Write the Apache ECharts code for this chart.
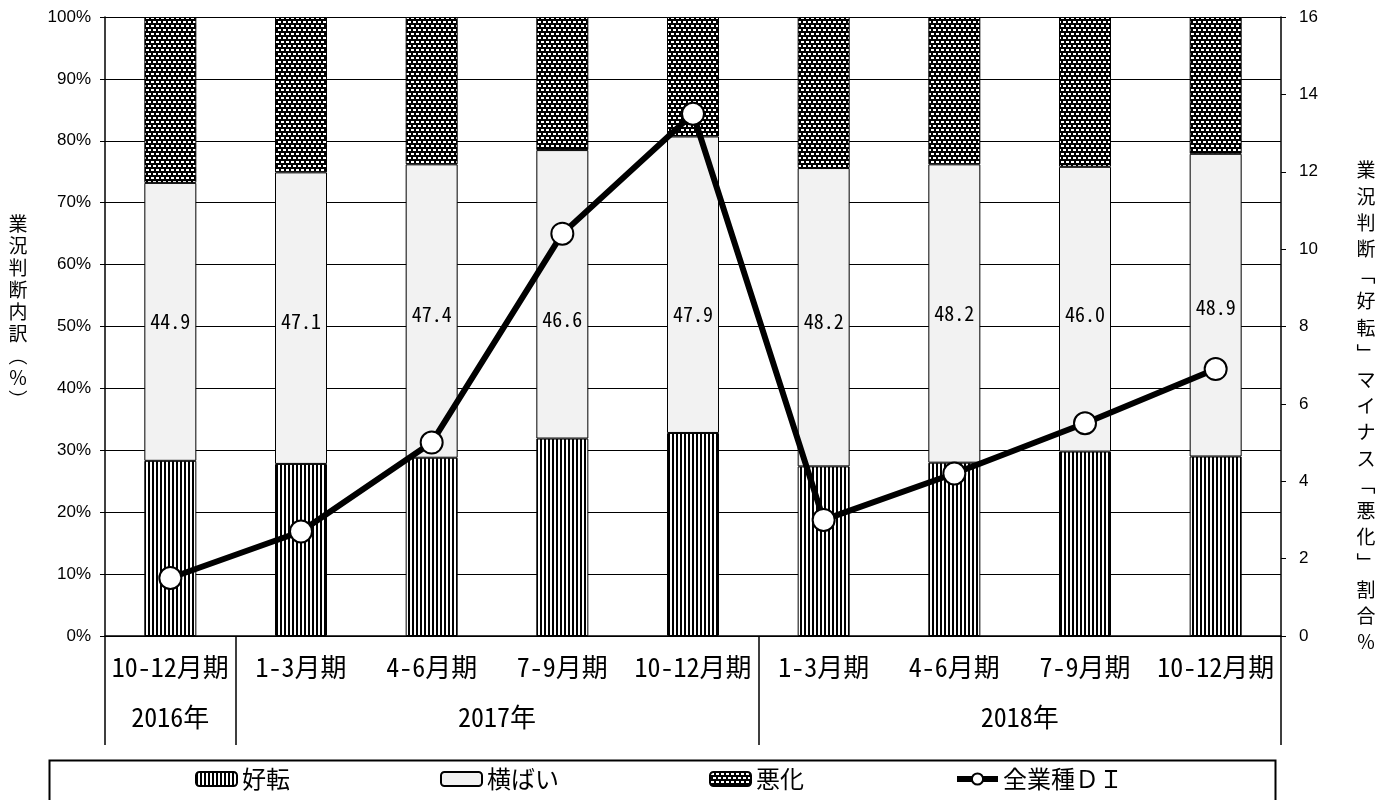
<!DOCTYPE html>
<html><head><meta charset="utf-8">
<script src="https://cdn.jsdelivr.net/npm/echarts@6/dist/echarts.min.js"></script>
<style>html,body{margin:0;padding:0;background:#fff}#c{width:1391px;height:800px}</style>
</head><body><div id="c"></div>
<script>
// ---- data ----
const categories = ['10-12月期','1-3月期','4-6月期','7-9月期','10-12月期','1-3月期','4-6月期','7-9月期','10-12月期'];
const years = ['2016年','2017年','2018年'];
const yearSpans = [1, 4, 4];
const improved = [28.3, 27.8, 28.8, 31.9, 32.8, 27.4, 28.0, 29.8, 29.0];
const flat     = [44.9, 47.1, 47.4, 46.6, 47.9, 48.2, 48.2, 46.0, 48.9];
const worse    = [26.8, 25.1, 23.8, 21.5, 19.3, 24.4, 23.8, 24.2, 22.1];
const di       = [1.5, 2.7, 5.0, 10.4, 13.5, 3.0, 4.2, 5.5, 6.9];
const seriesNames = ['好転', '横ばい', '悪化', '全業種ＤＩ'];
const leftAxisName = '業況判断内訳︵％︶';
const rightAxisName = '業況判断﹁好転﹂マイナス﹁悪化﹂割合％';

// label nudges (px, downward) as in the reference
const labelNudge = [0, 3, 3, 25, 30, 4, 0, 5, 2];

// year axis boundaries and centres from spans
const yearBounds = [0];
const yearCenters = [];
yearSpans.forEach(s => { const a = yearBounds[yearBounds.length-1]; yearCenters.push(a + s/2); yearBounds.push(a + s); });

// ---- patterns ----
function stripePattern() {
  const c = document.createElement('canvas'); c.width = 4; c.height = 4;
  const g = c.getContext('2d');
  g.fillStyle = '#fff'; g.fillRect(0,0,4,4);
  g.fillStyle = '#000'; g.fillRect(0,0,2,4);
  return c;
}
function brickPattern() {
  const c = document.createElement('canvas'); c.width = 10; c.height = 8;
  const g = c.getContext('2d');
  g.fillStyle = '#000'; g.fillRect(0,0,10,8);
  g.fillStyle = '#fff';
  g.fillRect(1,1,3,2); g.fillRect(6,1,3,2);
  g.fillRect(3,5,3,2); g.fillRect(8,5,2,2); g.fillRect(0,5,1,2);
  return c;
}
const pStripe = {image: stripePattern(), repeat: 'repeat'};
const pBrick = {image: brickPattern(), repeat: 'repeat'};

const chart = echarts.init(document.getElementById('c'));
const cjk = '"Noto Sans Mono CJK JP", "Noto Sans CJK JP", sans-serif';
const sansF = '"Liberation Sans", Arial, sans-serif';
const vert = s => Array.from(s).join('\n');

chart.setOption({
  animation: false,
  backgroundColor: '#fff',
  grid: {left: 105, right: 110, top: 17, bottom: 164, containLabel: false, outerBoundsMode: 'none'},
  legend: {
    data: [
      {name: seriesNames[0]}, {name: seriesNames[1]}, {name: seriesNames[2]},
      {name: seriesNames[3], lineStyle: {width: 6, color: '#000'}, itemStyle: {color: '#fff', borderColor: '#000', borderWidth: 2}}
    ],
    left: 195, top: 767, padding: 0,
    itemGap: 150, itemWidth: 41, itemHeight: 14,
    textStyle: {fontFamily: cjk, fontSize: 24, color: '#000'}
  },
  graphic: [{
    type: 'rect', left: 47, top: 758, shape: {width: 1226, height: 60},
    style: {fill: 'none', stroke: '#000', lineWidth: 2}, silent: true
  }, {
    type: 'text', x: 18, y: 312, silent: true,
    style: {text: vert(leftAxisName), font: '19px ' + cjk, fill: '#000', align: 'center', verticalAlign: 'middle', lineHeight: 22}
  }, {
    type: 'text', x: 1366, y: 406, silent: true,
    style: {text: vert(rightAxisName), font: '19px ' + cjk, fill: '#000', align: 'center', verticalAlign: 'middle', lineHeight: 26.2}
  }],
  xAxis: [{
    type: 'category', data: categories, gridIndex: 0,
    axisLine: {lineStyle: {color: '#000', width: 1.5}},
    axisTick: {show: false},
    axisLabel: {fontFamily: cjk, fontSize: 26, color: '#000', margin: 18, interval: 0}
  }, {
    type: 'value', gridIndex: 0, position: 'bottom', min: 0, max: categories.length,
    axisLine: {show: false},
    splitLine: {show: false},
    axisTick: {show: true, customValues: yearBounds, length: 109, lineStyle: {color: '#000', width: 1.5}},
    axisLabel: {
      customValues: yearCenters, margin: 68, fontFamily: cjk, fontSize: 26, color: '#000',
      formatter: v => { const i = yearCenters.findIndex(c => Math.abs(c - v) < 1e-6); return i >= 0 ? years[i] : ''; }
    }
  }],
  yAxis: [{
    type: 'value', min: 0, max: 100, interval: 10,
    axisLine: {show: true, lineStyle: {color: '#000', width: 1.5}},
    axisTick: {show: true, length: 5, lineStyle: {color: '#000'}},
    splitLine: {show: true, lineStyle: {color: '#000', width: 1}},
    axisLabel: {formatter: '{value}%', fontFamily: sansF, fontSize: 17, color: '#000', margin: 14}
  }, {
    type: 'value', min: 0, max: 16, interval: 2,
    axisLine: {show: true, lineStyle: {color: '#000', width: 1.5}},
    axisTick: {show: true, length: 5, lineStyle: {color: '#000'}},
    splitLine: {show: false},
    axisLabel: {fontFamily: sansF, fontSize: 17, color: '#000', margin: 18}
  }],
  series: [{
    name: seriesNames[0], type: 'bar', stack: 'a', data: improved, barWidth: 52,
    itemStyle: {color: pStripe, borderColor: '#000', borderWidth: 1}
  }, {
    name: seriesNames[1], type: 'bar', stack: 'a', barWidth: 52,
    data: flat.map((v, i) => ({value: v, label: {offset: [0, labelNudge[i]]}})),
    itemStyle: {color: '#f2f2f2', borderColor: '#000', borderWidth: 1},
    label: {show: true, position: 'inside', color: '#000', fontFamily: cjk, fontSize: 20,
      formatter: p => p.value.toFixed(1)}
  }, {
    name: seriesNames[2], type: 'bar', stack: 'a', data: worse, barWidth: 52,
    itemStyle: {color: pBrick, borderColor: '#000', borderWidth: 1}
  }, {
    name: seriesNames[3], type: 'line', yAxisIndex: 1, data: di, z: 10,
    lineStyle: {color: '#000', width: 6},
    symbol: 'circle', symbolSize: 22,
    itemStyle: {color: '#fff', borderColor: '#000', borderWidth: 2}
  }]
});
</script></body></html>
